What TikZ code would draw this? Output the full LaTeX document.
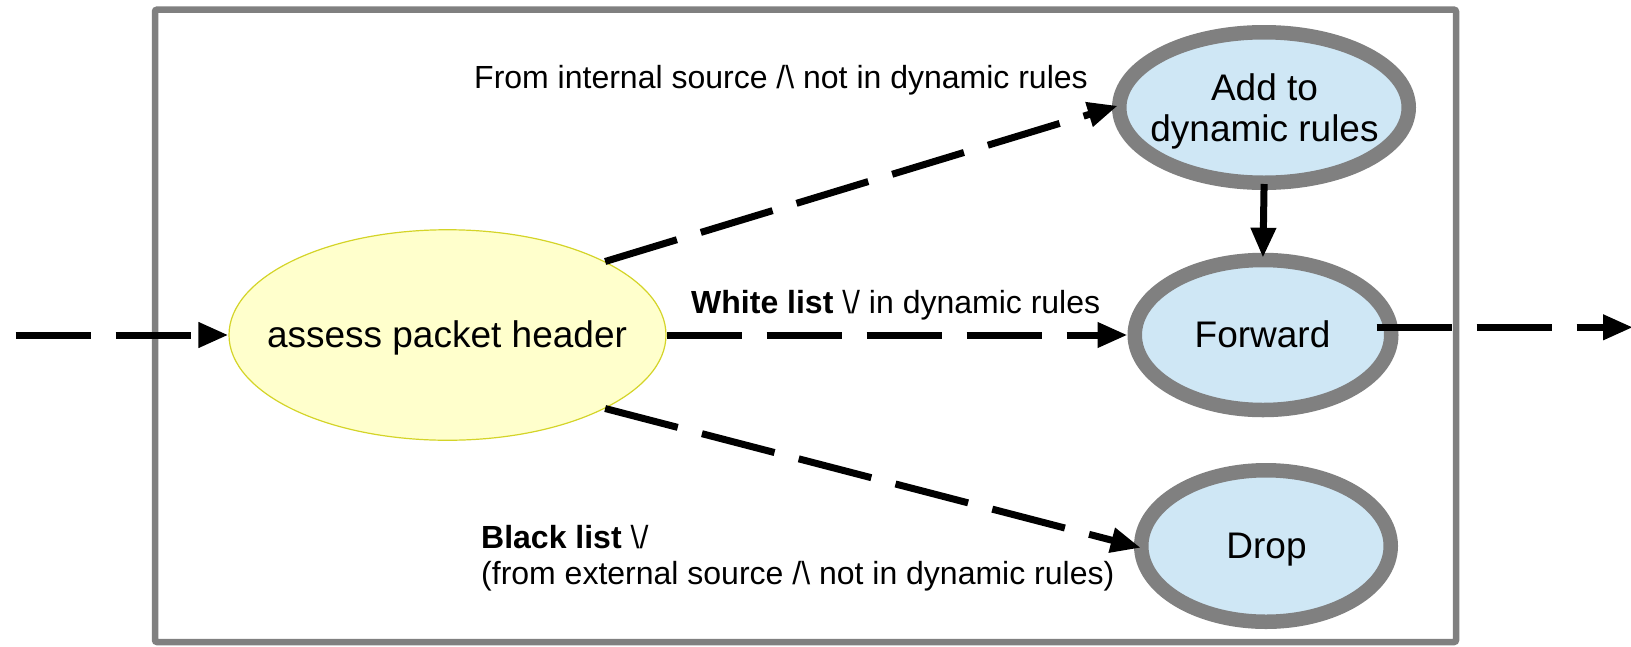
\documentclass[tikz,border=0pt]{standalone}
\usepackage{fontspec}
\setmainfont{Liberation Sans}
\usetikzlibrary{arrows.meta, shapes.geometric}

\definecolor{ringgray}{RGB}{128,128,128}
\definecolor{stateblue}{RGB}{207,231,245}
\definecolor{paleyellow}{RGB}{255,255,204}
\definecolor{yellowedge}{RGB}{212,212,40}

\begin{document}
\begin{tikzpicture}[x=1pt, y=-1pt,
  framebox/.style={draw=ringgray, line width=6.5pt, rounded corners=2pt},
  state/.style={ellipse, draw=ringgray, line width=14.5pt, fill=stateblue, inner sep=0pt},
  check/.style={ellipse, draw=yellowedge, line width=1.2pt, fill=paleyellow, inner sep=0pt},
  flow/.style={line width=7pt, -{Triangle[length=30pt, width=24pt]}},
  dashedflow/.style={flow, dash pattern=on 75pt off 25pt},
  nodetext/.style={font=\fontsize{37}{42}\selectfont, inner sep=0pt, anchor=base},
  edgetext/.style={font=\fontsize{32}{36}\selectfont, inner sep=0pt, anchor=base west}]

\useasboundingbox (0,0) rectangle (1631,646);

% enclosing box of the filter
\draw[framebox] (155,9.7) rectangle (1456,642);

% states
\node[check, minimum width=437pt, minimum height=210.5pt] (assess) at (447.5,335) {};
\node[state, minimum width=289.5pt, minimum height=150.5pt] (add) at (1264,107.5) {};
\node[state, minimum width=256.5pt, minimum height=150pt] (fwd) at (1263,335) {};
\node[state, minimum width=249.5pt, minimum height=151.5pt] (drop) at (1266,546) {};

% state texts
\node[nodetext] (assesstxt) at (447,347.7) {assess packet header};
\node[nodetext] (addtxt1) at (1264.5,100) {Add to};
\node[nodetext] (addtxt2) at (1264.5,141) {dynamic rules};
\node[nodetext] (fwdtxt) at (1262.5,347) {Forward};
\node[nodetext] (droptxt) at (1266.5,558.3) {Drop};

% conditions on the transitions
\node[edgetext] (lblint) at (474,88.3) {From internal source /\textbackslash{} not in dynamic rules};
\node[edgetext] (lblwhite) at (691,313.3) {\textbf{White list} \textbackslash/ in dynamic rules};
\node[edgetext] (lblblack) at (481,548) {\textbf{Black list} \textbackslash/};
\node[edgetext] (lblext) at (481,584) {(from external source /\textbackslash{} not in dynamic rules)};

% packet entering and leaving
\coordinate (entry) at (15.6,335);
\coordinate (exit) at (1633,327.3);

% transitions
\draw[dashedflow] (entry) -- (assess.west);
\draw[dashedflow, shorten >=-6pt] (assess.25.8) -- (add.west);
\draw[dashedflow] (assess.east) -- (fwd.west);
\draw[dashedflow, shorten >=-7pt] (assess.-25.4) -- (drop.west);
\draw[flow, shorten <=-6pt, shorten >=-5pt] (add.south) -- (fwd.north);
\draw[dashedflow] ([xshift=113.7pt, yshift=7.7pt]fwd.center) -- (exit);
\end{tikzpicture}
\end{document}
